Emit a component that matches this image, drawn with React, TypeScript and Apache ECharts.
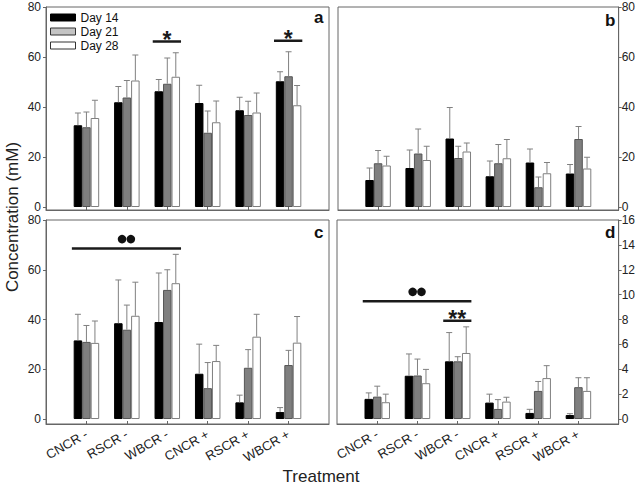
import React, { useEffect, useRef } from 'react';
import * as echarts from 'echarts';

const treatments = ['CNCR -', 'RSCR -', 'WBCR -', 'CNCR +', 'RSCR +', 'WBCR +'];
const days = ['Day 14', 'Day 21', 'Day 28'];

// Panel a
const a14 = [32.7, 41.9, 46.3, 41.6, 38.7, 50.3];
const a14e = [37.6, 48.2, 51.0, 48.7, 43.9, 54.1];
const a21 = [31.9, 43.8, 49.3, 29.7, 36.8, 52.3];
const a21e = [38.0, 50.6, 59.6, 38.4, 42.3, 62.1];
const a28 = [35.6, 50.6, 52.1, 33.9, 37.8, 40.7];
const a28e = [42.7, 60.8, 61.7, 42.4, 45.6, 48.6];
// Panel b
const b14 = [10.8, 15.6, 27.4, 12.3, 17.8, 13.4];
const b14e = [15.6, 22.8, 39.8, 18.4, 23.2, 17.0];
const b21 = [17.5, 21.4, 19.6, 17.5, 7.9, 27.2];
const b21e = [22.6, 31.2, 24.3, 25.0, 12.0, 32.2];
const b28 = [16.6, 18.8, 22.2, 19.5, 13.5, 15.4];
const b28e = [20.3, 24.3, 25.6, 27.0, 17.8, 19.9];
// Panel c
const c14 = [31.6, 38.5, 39.0, 18.2, 6.7, 2.8];
const c14e = [42.1, 55.9, 58.7, 30.1, 9.6, 4.6];
const c21 = [31.0, 35.9, 51.9, 12.4, 20.6, 21.7];
const c21e = [37.6, 45.8, 60.0, 22.7, 27.9, 27.6];
const c28 = [30.6, 41.5, 54.6, 23.3, 33.1, 30.7];
const c28e = [39.4, 55.0, 66.2, 29.6, 42.1, 41.2];
// Panel d
const d14 = [1.62, 3.48, 4.64, 1.32, 0.49, 0.32];
const d14e = [2.1, 5.23, 6.95, 2.0, 0.78, 0.43];
const d21 = [1.8, 3.5, 4.64, 0.81, 2.26, 2.56];
const d21e = [2.64, 4.82, 5.01, 1.56, 3.02, 3.32];
const d28 = [1.35, 2.88, 5.31, 1.4, 3.29, 2.26];
const d28e = [2.0, 3.99, 7.41, 1.75, 4.29, 3.32];

// Significance marks: [fromCategory(1-based), y, toCategory]
const aSig = [[3, 66.2, 3], [6, 66.5, 6]];
const aSigMarks = ['*', '*'];
const bSig: number[][] = [];
const bSigMarks: string[] = [];
const cSig = [[1, 68.5, 3]];
const cSigMarks = ['dots'];
const dSig = [[1, 9.46, 3], [3, 7.9, 3]];
const dSigMarks = ['dots', '**'];

const yTicksMain = [0, 20, 40, 60, 80];
const yTicksD = [0, 2, 4, 6, 8, 10, 12, 14, 16];

const FONT = '"Liberation Sans", Arial, sans-serif';
const BAR_W = 8.5;
const barFill = ['#000000', '#7f7f7f', '#ffffff'];
const barBorder = ['#000000', '#555555', '#7f7f7f'];

export default function App() {
  const ref = useRef<HTMLDivElement>(null);
  useEffect(() => {
    document.body.style.margin = '0';
    const chart = echarts.init(ref.current!, null, { renderer: 'svg' });
    const padded = ['', ...treatments, ''];
    const panels = [
      { grid: { left: 46, top: 7, width: 283, height: 203 }, min: -1.2, max: 80, ticks: yTicksMain, pos: 'left', showX: false, vals: [a14, a21, a28], errs: [a14e, a21e, a28e], sig: aSig, marks: aSigMarks },
      { grid: { left: 338, top: 7, width: 282, height: 203 }, min: -1.2, max: 80, ticks: yTicksMain, pos: 'right', showX: false, vals: [b14, b21, b28], errs: [b14e, b21e, b28e], sig: bSig, marks: bSigMarks },
      { grid: { left: 46, top: 220, width: 283, height: 204 }, min: -2, max: 80, ticks: yTicksMain, pos: 'left', showX: true, vals: [c14, c21, c28], errs: [c14e, c21e, c28e], sig: cSig, marks: cSigMarks },
      { grid: { left: 337, top: 220, width: 283, height: 204 }, min: -0.4, max: 16, ticks: yTicksD, pos: 'right', showX: true, vals: [d14, d21, d28], errs: [d14e, d21e, d28e], sig: dSig, marks: dSigMarks },
    ];
    const showIdx = (i: number) => i >= 1 && i <= 6;
    const grids: any[] = [];
    const xAxes: any[] = [];
    const yAxes: any[] = [];
    const series: any[] = [];
    panels.forEach((p, gi) => {
      grids.push({ ...p.grid, show: true, borderColor: '#666', borderWidth: 1, containLabel: false });
      xAxes.push({
        type: 'category', gridIndex: gi, data: padded, boundaryGap: false,
        axisLine: { onZero: false, lineStyle: { color: '#666' } },
        axisTick: { show: true, inside: true, length: 3, interval: showIdx, lineStyle: { color: '#666' } },
        axisLabel: { show: p.showX, rotate: 30, interval: showIdx, fontSize: 13, color: '#222', margin: 9, fontFamily: FONT },
        splitLine: { show: false },
      });
      yAxes.push({
        type: 'value', gridIndex: gi, min: p.min, max: p.max, position: p.pos,
        axisLine: { show: true, lineStyle: { color: '#666' } },
        axisTick: { show: true, length: 3, customValues: p.ticks, lineStyle: { color: '#666' } },
        axisLabel: { customValues: p.ticks, fontSize: 12, lineHeight: 12, color: '#222', margin: p.pos === 'left' ? 5 : 3, fontFamily: FONT },
        splitLine: { show: false },
      });
      p.vals.forEach((vals, k) => {
        series.push({
          type: 'bar', name: days[k], xAxisIndex: gi, yAxisIndex: gi,
          barWidth: BAR_W, barGap: '0%',
          data: vals.map((v, i) => [i + 1, v]),
          itemStyle: { color: barFill[k], borderColor: barBorder[k], borderWidth: 1 },
          silent: true,
        });
      });
      p.vals.forEach((vals, k) => {
        const errs = p.errs[k];
        series.push({
          type: 'custom', name: days[k] + ' err', xAxisIndex: gi, yAxisIndex: gi, silent: true, z: 3,
          data: vals.map((v, i) => [i + 1, v, errs[i]]),
          encode: { x: 0, y: 1 },
          renderItem: (params: any, api: any) => {
            const c = api.value(0), v = api.value(1), e = api.value(2);
            const p0 = api.coord([c, v]);
            const p1 = api.coord([c, e]);
            const x = p0[0] + (k - 1) * BAR_W;
            return {
              type: 'group', children: [
                { type: 'line', shape: { x1: x, y1: p0[1], x2: x, y2: p1[1] }, style: { stroke: '#808080', lineWidth: 1 } },
                { type: 'line', shape: { x1: x - 3, y1: p1[1], x2: x + 3, y2: p1[1] }, style: { stroke: '#808080', lineWidth: 1 } },
              ],
            };
          },
        });
      });
      if (p.sig.length) {
        const marks = p.marks;
        series.push({
          type: 'custom', name: 'sig' + gi, xAxisIndex: gi, yAxisIndex: gi, silent: true, z: 4,
          data: p.sig,
          encode: { x: 0, y: 1 },
          renderItem: (params: any, api: any) => {
            const from = api.value(0), y = api.value(1), to = api.value(2);
            const p1 = api.coord([from, y]);
            const p2 = api.coord([to, y]);
            const band = api.size([1, 0])[0];
            const x1 = p1[0] - 0.36 * band;
            const x2 = p2[0] + 0.34 * band;
            const cx = (x1 + x2) / 2;
            const ly = p1[1];
            const mark = marks[params.dataIndex];
            const children: any[] = [
              { type: 'line', shape: { x1, y1: ly, x2, y2: ly }, style: { stroke: '#1a1a1a', lineWidth: 2.5 } },
            ];
            if (mark === 'dots') {
              children.push({ type: 'circle', shape: { cx: cx - 4.4, cy: ly - 9.5, r: 4.3 }, style: { fill: '#111' } });
              children.push({ type: 'circle', shape: { cx: cx + 4.4, cy: ly - 9.5, r: 4.3 }, style: { fill: '#111' } });
            } else {
              children.push({ type: 'text', style: { text: mark, x: cx, y: ly - 2, align: 'center', verticalAlign: 'middle', fontSize: 23, fontWeight: 'bold', fontFamily: FONT, fill: '#1a1a1a' } });
            }
            return { type: 'group', children };
          },
        });
      }
    });

    const option: any = {
      animation: false,
      backgroundColor: '#ffffff',
      textStyle: { fontFamily: FONT },
      legend: {
        orient: 'vertical', left: 50, top: 11, padding: 0, itemWidth: 25, itemHeight: 7, itemGap: 1,
        selectedMode: false,
        textStyle: { fontSize: 12, lineHeight: 13, color: '#111', fontFamily: FONT },
        data: [
          { name: 'Day 14', icon: 'rect', itemStyle: { color: '#000', borderColor: '#000', borderWidth: 1 } },
          { name: 'Day 21', icon: 'rect', itemStyle: { color: '#c4c4c4', borderColor: '#333', borderWidth: 1 } },
          { name: 'Day 28', icon: 'rect', itemStyle: { color: '#fff', borderColor: '#333', borderWidth: 1 } },
        ],
      },
      grid: grids,
      xAxis: xAxes,
      yAxis: yAxes,
      series,
      graphic: [
        { type: 'text', left: 314, top: 9, style: { text: 'a', fontSize: 17, fontWeight: 'bold', fill: '#111', fontFamily: FONT } },
        { type: 'text', left: 605, top: 12, style: { text: 'b', fontSize: 17, fontWeight: 'bold', fill: '#111', fontFamily: FONT } },
        { type: 'text', left: 314, top: 224, style: { text: 'c', fontSize: 17, fontWeight: 'bold', fill: '#111', fontFamily: FONT } },
        { type: 'text', left: 605, top: 224, style: { text: 'd', fontSize: 17, fontWeight: 'bold', fill: '#111', fontFamily: FONT } },
        { type: 'text', x: 12, y: 217, rotation: Math.PI / 2, style: { text: 'Concentration (mM)', fontSize: 17, fill: '#222', fontFamily: FONT, align: 'center', verticalAlign: 'middle' } },
        { type: 'text', x: 321, y: 476, style: { text: 'Treatment', fontSize: 17, fill: '#222', fontFamily: FONT, align: 'center', verticalAlign: 'middle' } },
      ],
    };
    chart.setOption(option);
    return () => chart.dispose();
  }, []);
  return <div ref={ref} style={{ width: 638, height: 485 }} />;
}
